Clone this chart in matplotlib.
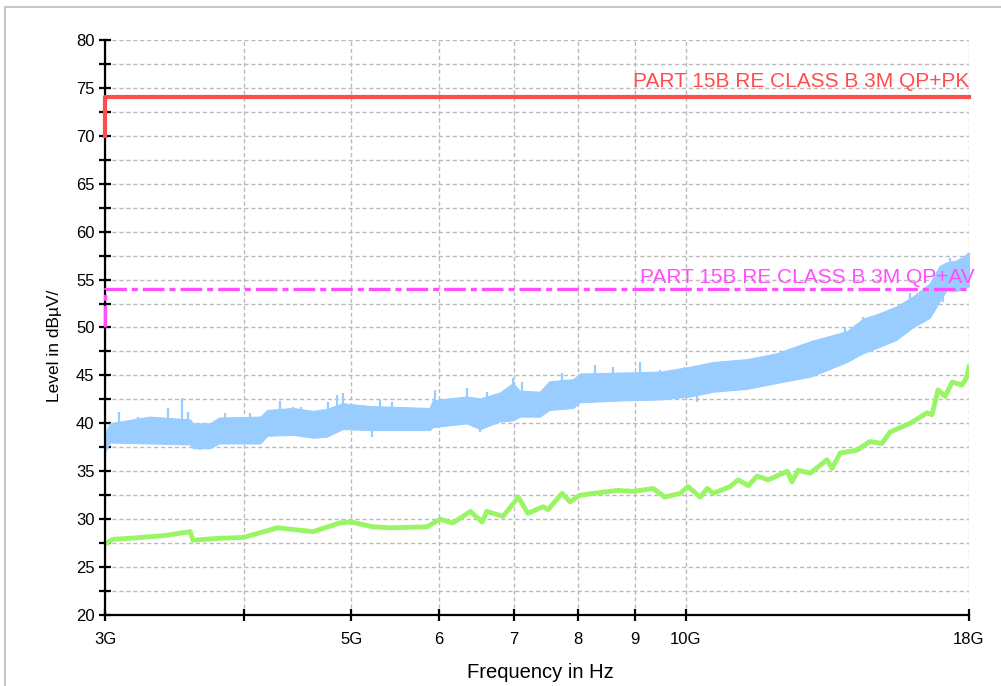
import numpy as np
import matplotlib
matplotlib.use('Agg')
import matplotlib.pyplot as plt
from matplotlib.lines import Line2D

plt.rcParams['font.family'] = ['Liberation Sans', 'DejaVu Sans']

# peak trace (blue) read as a band: frequency in GHz, lower / upper level in dBuV
pk_freq = [3.00, 3.03, 3.29, 3.58, 3.60, 3.73, 3.80, 4.14, 4.20, 4.43, 4.62, 4.75,
           4.91, 5.20, 5.88, 5.92, 6.35, 6.53, 6.80, 6.99, 7.09, 7.39, 7.54, 7.92,
           8.03, 8.79, 9.50, 10.09, 10.59, 11.36, 12.07, 12.98, 13.97, 14.44, 14.96,
           15.48, 16.01, 16.59, 16.93, 17.18, 17.54, 18.00]
pk_low = [37.0, 38.0, 37.9, 37.8, 37.4, 37.4, 37.9, 37.9, 38.7, 38.8, 38.5, 38.6,
          39.4, 39.3, 39.3, 39.6, 40.0, 39.4, 40.2, 40.3, 40.7, 40.7, 41.4, 41.6,
          42.2, 42.4, 42.5, 42.8, 43.3, 43.6, 44.2, 44.9, 46.4, 47.3, 48.0,
          48.7, 50.0, 51.0, 52.7, 53.9, 53.8, 54.3]
pk_high = [39.0, 40.0, 40.7, 40.4, 40.0, 40.0, 40.6, 40.7, 41.4, 41.6, 41.3, 41.5,
           42.1, 41.8, 41.6, 42.4, 42.8, 42.6, 43.2, 44.2, 43.4, 43.3, 44.4, 44.6,
           45.2, 45.3, 45.4, 45.9, 46.4, 46.7, 47.3, 48.6, 49.6, 50.9, 51.5,
           52.2, 53.2, 54.6, 56.4, 56.8, 57.0, 57.8]
# single spikes sticking up out of the peak band
spike_freq = [3.09, 3.21, 3.42, 3.52, 3.56, 3.85, 4.05, 4.31, 4.43, 4.50, 4.76, 4.85,
              4.91, 5.31, 5.44, 5.95, 6.35, 6.62, 6.99, 7.13, 7.74, 8.29, 8.61, 9.10,
              9.48, 9.99, 12.35, 12.95, 13.92, 14.44, 14.96, 15.93, 16.53, 17.30, 17.97]
spike_top = [41.2, 40.7, 41.6, 42.6, 41.2, 41.1, 41.1, 42.3, 41.7, 41.7, 42.2, 43.0,
             43.2, 42.4, 42.2, 43.5, 43.7, 43.3, 44.7, 44.3, 45.3, 46.1, 45.9, 46.4,
             45.6, 45.9, 47.7, 48.0, 49.9, 51.1, 51.3, 53.6, 54.2, 57.3, 57.8]
# dips going down out of the band
dip_freq = [3.00, 3.65, 5.22, 6.53, 10.24, 17.06]
dip_bottom = [36.5, 37.2, 38.6, 39.1, 42.2, 52.7]

# average trace (green)
av_freq = [3.00, 3.05, 3.16, 3.40, 3.58, 3.60, 3.80, 4.00, 4.29, 4.62, 4.88, 5.00,
           5.23, 5.42, 5.85, 6.01, 6.17, 6.40, 6.56, 6.62, 6.85, 7.07, 7.21, 7.44,
           7.52, 7.74, 7.87, 8.03, 8.68, 8.97, 9.35, 9.58, 9.89, 10.05, 10.31, 10.46,
           10.59, 10.97, 11.15, 11.39, 11.60, 11.87, 12.35, 12.47, 12.63, 12.95, 13.41,
           13.55, 13.78, 14.27, 14.66, 15.03, 15.28, 15.93, 16.50, 16.67, 16.88, 17.13,
           17.38, 17.74, 17.90, 18.00]
av_level = [27.4, 27.9, 28.0, 28.3, 28.7, 27.8, 28.0, 28.1, 29.1, 28.7, 29.6, 29.7,
            29.2, 29.1, 29.2, 30.0, 29.6, 30.8, 29.7, 30.8, 30.3, 32.3, 30.6, 31.3,
            31.0, 32.7, 31.8, 32.5, 33.0, 32.9, 33.2, 32.3, 32.7, 33.4, 32.3, 33.2,
            32.7, 33.4, 34.1, 33.5, 34.5, 34.1, 35.0, 33.9, 35.1, 34.8, 36.2,
            35.3, 36.9, 37.2, 38.1, 37.9, 39.1, 40.0, 41.1, 40.9, 43.5, 42.8,
            44.3, 44.0, 44.7, 45.9]

# limit lines
pk_limit_x = [3.0, 3.0, 18.0]
pk_limit_y = [70, 74, 74]
av_limit_x = [3.0, 3.0, 18.0]
av_limit_y = [50, 54, 54]

xtick_vals = [3, 4, 5, 6, 7, 8, 9, 10, 18]
xtick_labels = ['3G', '', '5G', '6', '7', '8', '9', '10G', '18G']

fig = plt.figure(figsize=(10.01, 6.86), dpi=100)
ax = fig.add_axes([105/1001, 1-615/686, (969-105)/1001, (615-40)/686])

# gray frame of the whole picture (left and top only)
fig.add_artist(Line2D([5/1001, 5/1001], [0, 1-7/686], color='#c8c8c8', lw=1.5,
                      transform=fig.transFigure))
fig.add_artist(Line2D([5/1001, 1], [1-7/686, 1-7/686], color='#c8c8c8', lw=1.5,
                      transform=fig.transFigure))

blue = '#99ccff'
ax.fill_between(pk_freq, pk_low, pk_high, color=blue, lw=0.8, edgecolor=blue, zorder=3)
ax.vlines(spike_freq, [t - 2.5 for t in spike_top], spike_top, color=blue,
          lw=1.6, zorder=3)
ax.vlines(dip_freq, dip_bottom, [b + 2.0 for b in dip_bottom], color=blue,
          lw=1.6, zorder=3)
ax.plot(av_freq, av_level, color='#99f566', lw=3.5, zorder=4)

ax.plot(pk_limit_x, pk_limit_y, color='#ff4d4d', lw=3.0, zorder=8, clip_on=False)
ax.plot(av_limit_x, av_limit_y, color='#ff4dff', lw=2.4, zorder=8, clip_on=False,
        dashes=(6.5, 1.5, 1.8, 1.5))

ax.text(18.0, 75.1, 'PART 15B RE CLASS B 3M QP+PK', color='#ff4d4d',
        fontsize=15, ha='right', va='baseline', zorder=9)
ax.text(18.2, 54.6, 'PART 15B RE CLASS B 3M QP+AV', color='#ff4dff',
        fontsize=15, ha='right', va='baseline', zorder=9, clip_on=False)

ax.set_xscale('log')
ax.set_xlim(3, 18)
ax.set_ylim(20, 80)
ax.set_xticks(xtick_vals)
ax.set_xticklabels(xtick_labels)
ax.xaxis.set_minor_locator(matplotlib.ticker.NullLocator())
ax.set_yticks(np.arange(20, 81, 5))
ax.set_yticks(np.arange(22.5, 80, 5), minor=True)

ax.grid(True, which='both', color='#bbbbbb', ls=(0, (3, 2)), lw=1.0, zorder=0)
ax.set_axisbelow(True)

for s in ['top', 'right']:
    ax.spines[s].set_visible(False)
for s in ['left', 'bottom']:
    ax.spines[s].set_linewidth(1.6)
    ax.spines[s].set_zorder(7)

ax.tick_params(which='both', direction='inout', length=8, width=1.6,
               labelsize=12, colors='black')
ax.tick_params(axis='x', pad=8)

fig.text(540/1001, 1-673/686, 'Frequency in Hz', fontsize=14.5, ha='center', va='center')
fig.text(55/1001, 1-346/686, 'Level in dBµV/', fontsize=12.5, rotation=90,
         ha='center', va='center')

plt.savefig('out.png', dpi=100)
